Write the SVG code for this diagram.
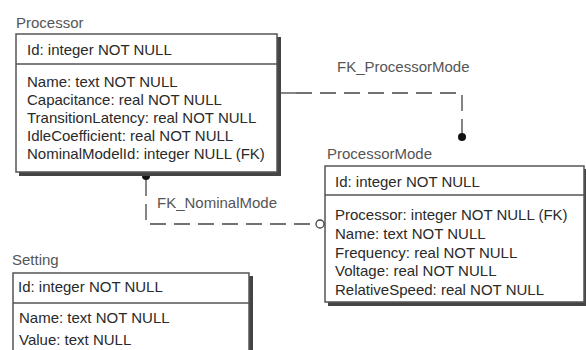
<svg xmlns="http://www.w3.org/2000/svg" width="586" height="350" viewBox="0 0 586 350">
<style>
.t{font-family:"Liberation Sans",Arial,sans-serif;font-size:15px;fill:#2a2a2a}
.lbl{font-family:"Liberation Sans",Arial,sans-serif;font-size:15px;fill:#555}
.box{fill:#fff;stroke:#555;stroke-width:1.5}
.sh{fill:#444}
.div{stroke:#555;stroke-width:1.5}
.dash{fill:none;stroke:#444;stroke-width:1.3;stroke-dasharray:16 8}
.solid{fill:none;stroke:#444;stroke-width:1.3}
</style>
<rect width="586" height="350" fill="#fff"/>
<g id="connectors">
  <g id="FK_ProcessorMode">
    <line class="solid" x1="277" y1="93" x2="296" y2="93"/>
    <path class="dash" d="M296,93 H462 V133"/>
    <circle cx="462" cy="137" r="4" fill="#111"/>
    <text class="lbl" x="337" y="72">FK_ProcessorMode</text>
  </g>
  <g id="FK_NominalMode">
    <circle cx="146" cy="176" r="4" fill="#111"/>
    <path class="dash" d="M146,180 V224 H316"/>
    <circle cx="320" cy="224" r="4" fill="#fff" stroke="#444" stroke-width="1.3"/>
    <line class="solid" x1="324" y1="224" x2="326" y2="224"/>
    <text class="lbl" x="157" y="208">FK_NominalMode</text>
  </g>
</g>
<g id="Processor">
  <text class="lbl" x="16" y="28">Processor</text>
  <rect class="sh" x="19" y="37" width="262" height="139"/>
  <rect class="box" x="16" y="34" width="261" height="138"/>
  <line class="div" x1="16" y1="64" x2="277" y2="64"/>
  <text class="t" x="27" y="55">Id: integer NOT NULL</text>
  <text class="t" x="27" y="87">Name: text NOT NULL</text>
  <text class="t" x="27" y="105">Capacitance: real NOT NULL</text>
  <text class="t" x="27" y="123">TransitionLatency: real NOT NULL</text>
  <text class="t" x="27" y="141">IdleCoefficient: real NOT NULL</text>
  <text class="t" x="27" y="159">NominalModelId: integer NULL (FK)</text>
</g>
<g id="ProcessorMode">
  <text class="lbl" x="327" y="159">ProcessorMode</text>
  <rect class="sh" x="328" y="169" width="259" height="137"/>
  <rect class="box" x="325" y="166" width="259" height="136"/>
  <line class="div" x1="325" y1="195" x2="584" y2="195"/>
  <text class="t" x="335" y="187">Id: integer NOT NULL</text>
  <text class="t" x="335" y="220">Processor: integer NOT NULL (FK)</text>
  <text class="t" x="335" y="239">Name: text NOT NULL</text>
  <text class="t" x="335" y="258">Frequency: real NOT NULL</text>
  <text class="t" x="335" y="276">Voltage: real NOT NULL</text>
  <text class="t" x="335" y="295">RelativeSpeed: real NOT NULL</text>
</g>
<g id="Setting">
  <text class="lbl" x="12" y="265">Setting</text>
  <rect class="sh" x="16" y="276" width="237" height="80"/>
  <rect class="box" x="13" y="273" width="236" height="80"/>
  <line class="div" x1="13" y1="303" x2="249" y2="303"/>
  <text class="t" x="18" y="292">Id: integer NOT NULL</text>
  <text class="t" x="19" y="323">Name: text NOT NULL</text>
  <text class="t" x="19" y="345">Value: text NULL</text>
</g>
</svg>
